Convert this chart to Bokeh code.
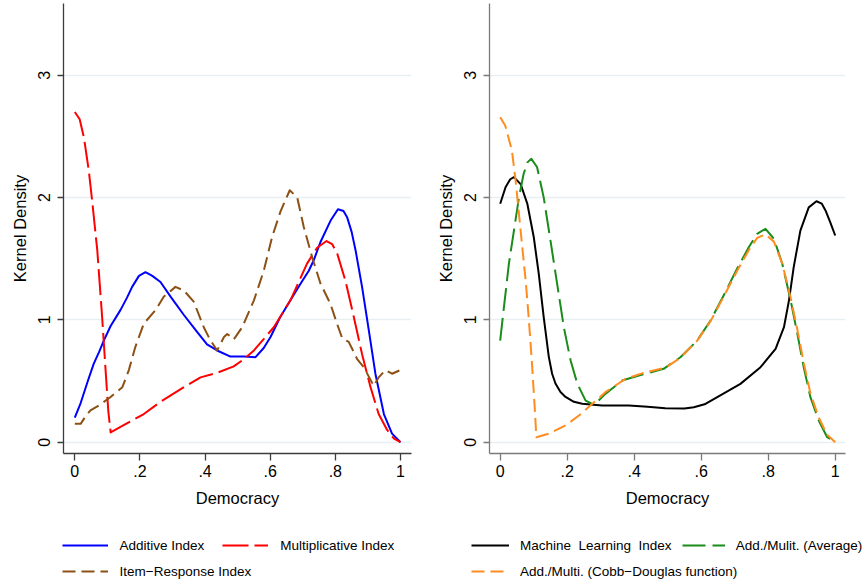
from bokeh.plotting import figure
from bokeh.layouts import row, column
from bokeh.models import FixedTicker, Legend, LegendItem
from bokeh.embed import file_html
from bokeh.resources import INLINE

# ---------------- data ----------------
x_ticks = [0, 0.2, 0.4, 0.6, 0.8, 1]
x_tick_labels = ["0", ".2", ".4", ".6", ".8", "1"]
y_ticks = [0, 1, 2, 3]

add_x = [0, 0.018, 0.04, 0.058, 0.075, 0.089, 0.11, 0.14, 0.16, 0.176, 0.197, 0.217, 0.238, 0.263, 0.294,
         0.335, 0.376, 0.406, 0.437, 0.478, 0.52, 0.555, 0.58, 0.601, 0.63, 0.662, 0.693, 0.718, 0.734, 0.754,
         0.785, 0.808, 0.825, 0.836, 0.85, 0.862, 0.882, 0.903, 0.923, 0.949, 0.974, 1.0]
add_y = [0.20, 0.32, 0.50, 0.64, 0.74, 0.83, 0.95, 1.08, 1.18, 1.27, 1.36, 1.39, 1.36, 1.31, 1.19,
         1.04, 0.90, 0.80, 0.75, 0.70, 0.70, 0.695, 0.77, 0.86, 1.02, 1.16, 1.295, 1.40, 1.49, 1.635,
         1.81, 1.905, 1.89, 1.84, 1.72, 1.57, 1.27, 0.91, 0.56, 0.23, 0.07, 0.0]

mul_x = [0, 0.015, 0.028, 0.043, 0.053, 0.069, 0.084, 0.094, 0.103, 0.110, 0.15, 0.212, 0.263, 0.335, 0.386,
         0.44, 0.488, 0.52, 0.55, 0.611, 0.662, 0.713, 0.744, 0.773, 0.79, 0.806, 0.831, 0.857, 0.882, 0.908,
         0.933, 0.959, 0.98, 1.0]
mul_y = [2.70, 2.64, 2.49, 2.22, 1.98, 1.57, 1.02, 0.61, 0.25, 0.08, 0.14, 0.23, 0.33, 0.45, 0.53,
         0.57, 0.62, 0.68, 0.75, 0.94, 1.16, 1.46, 1.59, 1.645, 1.62, 1.54, 1.32, 1.02, 0.72, 0.45,
         0.23, 0.10, 0.03, 0.0]

irt_x = [0, 0.018, 0.035, 0.048, 0.074, 0.11, 0.146, 0.166, 0.186, 0.212, 0.248, 0.273, 0.309, 0.335, 0.365,
         0.396, 0.415, 0.437, 0.458, 0.468, 0.488, 0.514, 0.55, 0.58, 0.606, 0.632, 0.66, 0.683, 0.703, 0.729,
         0.754, 0.785, 0.805, 0.821, 0.841, 0.867, 0.888, 0.918, 0.933, 0.954, 0.974, 1.0]
irt_y = [0.15, 0.15, 0.22, 0.26, 0.30, 0.37, 0.45, 0.59, 0.78, 0.97, 1.08, 1.19, 1.27, 1.24, 1.15,
         0.94, 0.84, 0.75, 0.86, 0.885, 0.84, 0.94, 1.16, 1.40, 1.68, 1.89, 2.06, 2.00, 1.76, 1.51,
         1.30, 1.13, 0.97, 0.85, 0.82, 0.68, 0.61, 0.46, 0.53, 0.59, 0.56, 0.59]

ml_x = [0, 0.016, 0.03, 0.041, 0.061, 0.081, 0.1, 0.115, 0.13, 0.145, 0.155, 0.165, 0.18, 0.195, 0.22, 0.245,
        0.304, 0.384, 0.44, 0.493, 0.55, 0.578, 0.61, 0.648, 0.717, 0.777, 0.822, 0.847, 0.862, 0.876, 0.896,
        0.921, 0.944, 0.96, 0.971, 0.985, 1.0]
ml_y = [1.95, 2.085, 2.15, 2.167, 2.11, 1.95, 1.68, 1.38, 1.02, 0.70, 0.56, 0.48, 0.41, 0.37, 0.33, 0.315,
        0.30, 0.30, 0.29, 0.278, 0.275, 0.286, 0.31, 0.368, 0.477, 0.613, 0.763, 0.94, 1.16, 1.43, 1.73,
        1.92, 1.97, 1.95, 1.895, 1.80, 1.69]

avg_x = [0, 0.011, 0.026, 0.041, 0.056, 0.07, 0.082, 0.093, 0.11, 0.13, 0.15, 0.17, 0.19, 0.21, 0.23, 0.255,
         0.275, 0.29, 0.314, 0.364, 0.414, 0.488, 0.538, 0.588, 0.628, 0.667, 0.707, 0.742, 0.767, 0.792,
         0.817, 0.842, 0.867, 0.887, 0.906, 0.926, 0.951, 0.976, 1.0]
avg_y = [0.83, 1.10, 1.46, 1.73, 2.00, 2.195, 2.29, 2.317, 2.25, 2.00, 1.65, 1.295, 0.94, 0.67, 0.48, 0.34,
         0.314, 0.33, 0.395, 0.504, 0.545, 0.60, 0.695, 0.831, 0.995, 1.20, 1.418, 1.594, 1.704, 1.745,
         1.663, 1.459, 1.159, 0.886, 0.613, 0.368, 0.177, 0.041, 0.0]

cd_x = [0, 0.015, 0.035, 0.046, 0.056, 0.066, 0.076, 0.085, 0.095, 0.103, 0.108, 0.145, 0.195, 0.235, 0.275,
        0.314, 0.374, 0.434, 0.493, 0.538, 0.588, 0.628, 0.667, 0.707, 0.742, 0.767, 0.792, 0.817, 0.842,
        0.867, 0.887, 0.906, 0.926, 0.951, 0.976, 1.0]
cd_y = [2.657, 2.59, 2.385, 2.14, 1.868, 1.594, 1.322, 1.022, 0.641, 0.286, 0.041, 0.069, 0.137, 0.218, 0.314,
        0.409, 0.518, 0.572, 0.608, 0.69, 0.83, 0.99, 1.19, 1.40, 1.57, 1.67, 1.70, 1.64, 1.46,
        1.18, 0.92, 0.65, 0.40, 0.20, 0.06, 0.0]

FONT = "Liberation Sans"

STYLE_ADD = dict(line_color="#0000ff", line_width=2, line_join="round")
STYLE_MUL = dict(line_color="#ff0000", line_width=2, line_dash="26 6", line_join="round")
STYLE_IRT = dict(line_color="#8c5014", line_width=2, line_dash="13 6", line_join="round")
STYLE_ML = dict(line_color="black", line_width=2, line_join="round")
STYLE_AVG = dict(line_color="#1a8c1a", line_width=2, line_dash="23 7", line_join="round")
STYLE_CD = dict(line_color="#ff8c1e", line_width=2, line_dash="13 6", line_join="round")


def make_fig(x_range, border_left, border_right, axis_color):
    p = figure(width=433, height=520, x_range=x_range, y_range=(-0.0924, 3.587),
               output_backend="svg", toolbar_location=None,
               min_border_left=border_left, min_border_right=border_right,
               min_border_top=3, min_border_bottom=67)
    p.outline_line_color = None
    p.background_fill_color = "white"
    p.border_fill_color = "white"
    p.xgrid.visible = False
    p.ygrid.ticker = FixedTicker(ticks=y_ticks)
    p.ygrid.grid_line_color = "#e8eff1"
    p.ygrid.grid_line_width = 1.5

    xa = p.xaxis[0]
    xa.ticker = FixedTicker(ticks=x_ticks)
    xa.major_label_overrides = {t: l for t, l in zip(x_ticks, x_tick_labels)}
    xa.axis_label = "Democracy"
    ya = p.yaxis[0]
    ya.ticker = FixedTicker(ticks=y_ticks)
    ya.axis_label = "Kernel Density"
    ya.major_label_orientation = "vertical"
    for ax in (xa, ya):
        ax.axis_line_color = axis_color
        ax.axis_line_width = 1.3
        ax.major_tick_line_color = axis_color
        ax.major_tick_line_width = 1.3
        ax.minor_tick_line_color = None
        ax.major_tick_in = 0
        ax.major_label_text_font = FONT
        ax.major_label_text_font_size = "16px"
        ax.major_label_text_color = "black"
        ax.axis_label_text_font = FONT
        ax.axis_label_text_font_size = "16.5px"
        ax.axis_label_text_font_style = "normal"
        ax.axis_label_text_color = "black"
    xa.major_tick_out = 7
    xa.major_label_standoff = 4
    xa.axis_label_standoff = 9
    ya.major_tick_out = 6
    ya.major_label_standoff = 7
    ya.axis_label_standoff = 7
    return p


def make_legend_fig():
    q = figure(width=433, height=65, x_range=(0, 433), y_range=(0, 65),
               output_backend="svg", toolbar_location=None, min_border=0)
    q.axis.visible = False
    q.grid.visible = False
    q.outline_line_color = None
    q.background_fill_color = "white"
    q.border_fill_color = "white"
    return q


def add_legend(q, label, style, vx, vy, glyph_width, standoff):
    # key-only renderer: its points lie outside the visible range
    r = q.line([-50, -40], [-50, -40], **style)
    leg = Legend(items=[LegendItem(label=label, renderers=[r])],
                 location=(vx, vy), orientation="horizontal",
                 glyph_width=glyph_width, glyph_height=16, label_height=16,
                 label_standoff=standoff, padding=0, margin=0, spacing=0,
                 border_line_alpha=0, background_fill_alpha=0,
                 label_text_font=FONT, label_text_font_size="13.5px",
                 label_text_color="black")
    q.add_layout(leg, "center")


# ---------------- left panel ----------------
p1 = make_fig((-0.0347, 1.0338), 63, 22, "#3c3c3c")
p1.line(add_x, add_y, **STYLE_ADD)
p1.line(mul_x, mul_y, **STYLE_MUL)
p1.line(irt_x, irt_y, **STYLE_IRT)
q1 = make_legend_fig()
add_legend(q1, "Additive Index", STYLE_ADD, 61.5, 31.7, 46, 12)
add_legend(q1, "Multiplicative Index", STYLE_MUL, 222.3, 31.7, 46, 12)
add_legend(q1, "Item\u2212Response Index", STYLE_IRT, 61.5, 5.7, 46, 12)

# ---------------- right panel ----------------
p2 = make_fig((-0.0319, 1.0307), 56, 21, "#7a7a7a")
p2.line(ml_x, ml_y, **STYLE_ML)
p2.line(avg_x, avg_y, **STYLE_AVG)
p2.line(cd_x, cd_y, **STYLE_CD)
q2 = make_legend_fig()
add_legend(q2, "Machine  Learning  Index", STYLE_ML, 38, 31.7, 38, 11)
add_legend(q2, "Add./Mulit. (Average)", STYLE_AVG, 248.7, 31.7, 43, 11)
add_legend(q2, "Add./Multi. (Cobb\u2212Douglas function)", STYLE_CD, 38, 5.7, 38, 11)

layout = column(row(p1, p2), row(q1, q2))
open("out.html", "w").write(file_html(layout, INLINE))
